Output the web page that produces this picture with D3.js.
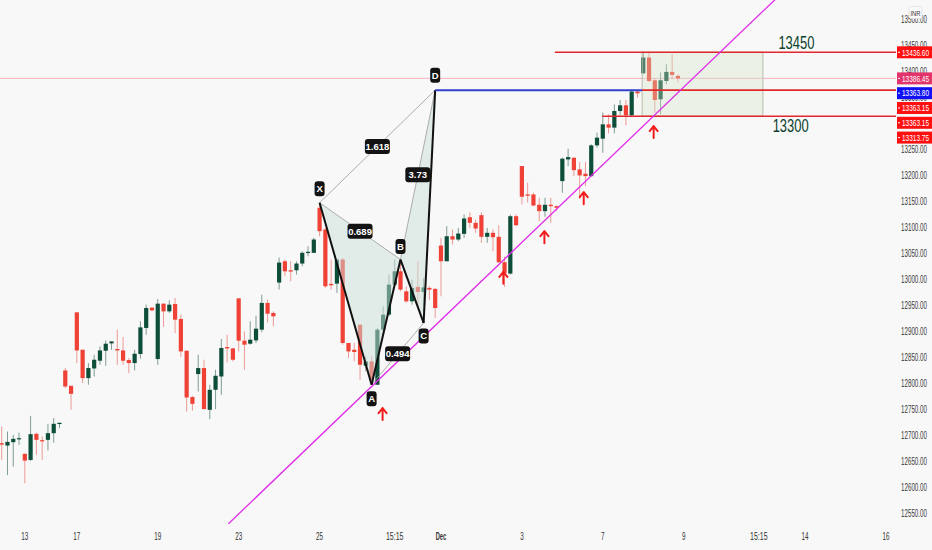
<!DOCTYPE html>
<html><head><meta charset="utf-8">
<script src="https://cdn.jsdelivr.net/npm/d3@7"></script>
<style>
html,body{margin:0;padding:0;background:#f8f8f8;}
svg{display:block;}
</style></head><body><svg id="c" width="932" height="550"></svg>
<script>
// ---------- DATA ----------
const opens=[12685.2,12680.6,12687.1,12693.5,12664.6,12653.0,12703.1,12691.0,12691.6,12704.4,12723.5,12825.0,12795.5,12936.7,12864.8,12810.3,12828.8,12843.7,12862.9,12877.0,12866.2,12863.5,12845.0,12839.2,12856.6,12906.7,12945.7,12846.9,12953.4,12938.6,12952.8,12924.0,12862.9,12773.8,12818.1,12829.6,12749.3,12787.8,12813.4,12870.0,12867.4,12963.6,12882.2,12876.4,12882.8,12903.4,12954.8,12935.5,12993.9,13034.9,13017.6,13017.6,13030.5,13051.1,13051.1,13137.7,13096.0,12991.4,12991.9,13038.2,12877.8,12864.8,12913.0,12834.0,12842.3,12797.5,12903.4,12932.3,12990.0,13015.6,12977.1,12957.9,12985.6,12976.0,12983.7,12981.7,13065.1,13034.9,13083.0,13076.7,13087.6,13119.6,13108.8,13123.5,13081.9,13089.6,13081.9,13033.0,13011.2,13121.5,13217.9,13163.4,13163.3,13143.5,13131.2,13143.5,13140.8,13189.0,13230.7,13234.0,13211.5,13203.2,13198.6,13257.7,13270.6,13298.1,13291.8,13323.7,13334.7,13315.5,13361.1,13396.3,13426.6,13382.8,13346.3,13381.5,13398.9,13391.2];
const highs=[12717.2,12707.5,12701.2,12705.6,12665.9,12737.7,12705.6,12697.9,12722.4,12733.3,12724.9,12829.6,12795.5,12936.7,12864.8,12839.2,12855.2,12871.2,12882.8,12880.8,12903.4,12889.3,12848.9,12864.8,12919.4,12951.5,12947.2,12962.5,12953.4,12959.8,12964.4,12932.3,12862.9,12776.3,12855.2,12845.6,12797.5,12826.3,12885.5,12893.7,12868.1,12963.6,12900.1,12919.4,12930.3,12970.8,12961.1,12938.6,13042.0,13038.2,13034.9,13034.9,13054.1,13063.8,13080.0,13147.4,13099.2,13038.2,13038.2,13041.5,12877.8,12877.8,12913.0,12851.9,12851.9,12906.6,12948.2,13009.3,13038.2,13038.2,12986.8,12999.6,13034.9,13002.9,12986.8,12983.7,13080.0,13102.3,13096.0,13099.2,13124.8,13129.2,13115.2,13129.2,13099.2,13096.0,13104.2,13043.4,13124.8,13124.8,13217.9,13185.9,13166.6,13157.0,13157.0,13157.0,13142.1,13234.0,13251.3,13234.0,13225.5,13225.5,13259.6,13282.2,13320.7,13317.4,13336.6,13344.9,13344.9,13365.5,13362.3,13437.4,13437.4,13386.1,13397.7,13413.7,13432.9,13394.4];
const lows=[12653.0,12624.1,12640.1,12681.9,12608.1,12651.0,12662.7,12653.0,12671.0,12686.3,12714.1,12791.1,12749.3,12839.2,12800.7,12797.5,12813.4,12835.9,12834.0,12864.8,12835.9,12835.9,12820.0,12825.0,12847.5,12893.7,12938.6,12835.9,12908.6,12935.5,12896.7,12850.8,12746.0,12747.9,12784.6,12750.6,12731.4,12750.6,12778.2,12840.4,12842.3,12861.6,12826.3,12874.5,12877.8,12898.2,12917.4,12909.7,12980.4,13006.0,12996.4,13009.3,13025.3,13044.5,13051.1,13083.0,12983.7,12980.4,12974.0,12874.5,12848.9,12842.3,12807.1,12822.9,12797.5,12797.5,12900.1,12929.0,12986.8,12977.1,12954.8,12951.5,12948.2,12916.3,12961.0,12926.0,12967.5,13034.9,13067.1,13073.4,13080.0,13099.2,13089.6,13070.3,13070.3,13054.1,13031.8,12985.6,13009.3,13102.3,13144.1,13147.4,13140.8,13111.9,13120.4,13108.8,13131.2,13166.6,13217.9,13198.6,13155.0,13179.3,13197.4,13253.3,13243.6,13280.8,13280.8,13315.5,13296.2,13314.1,13349.5,13394.4,13379.6,13320.7,13317.4,13375.2,13384.8,13378.4];
const closes=[12682.5,12687.7,12693.5,12694.8,12651.7,12702.5,12691.6,12690.0,12704.4,12722.4,12724.3,12794.2,12780.1,12863.5,12810.3,12829.6,12845.6,12863.5,12876.4,12880.8,12863.5,12843.7,12839.2,12857.1,12907.8,12945.1,12940.5,12953.4,12938.6,12951.5,12922.6,12861.6,12773.0,12760.8,12829.6,12750.6,12787.8,12814.8,12868.1,12867.4,12845.6,12882.2,12874.5,12884.1,12905.3,12954.8,12934.2,12929.0,13032.4,13015.6,13015.1,13030.5,13051.1,13053.0,13076.7,13092.7,12986.8,12988.7,13038.2,12877.8,12861.6,12860.4,12835.9,12842.3,12807.1,12903.4,12932.3,12990.0,13015.6,12980.4,12957.9,12983.7,12976.0,12984.8,12980.4,12945.1,13034.9,13083.0,13076.7,13088.2,13117.1,13108.8,13097.9,13081.9,13089.6,13081.1,13033.0,13012.5,13121.5,13104.2,13158.9,13160.9,13142.1,13131.2,13143.5,13140.8,13137.7,13232.1,13235.2,13210.1,13199.9,13198.6,13257.7,13272.5,13298.1,13291.8,13323.7,13334.7,13315.5,13361.1,13357.8,13426.6,13381.5,13344.9,13382.8,13398.9,13393.1,13386.45];

const xTickIdx=[4,13,27,41,55,68,76,90,104,118,131,139,153];
const xTickLabels=["13","17","19","23","25","15:15","Dec","3","7","9","15:15","14","16"];
const yTickValues=d3.range(12550,13501,50);

const patternNames=["X","A","B","C","D"];
const patternIdx=[55,64,69,73,75];
const patternPrice=[13147.4,12797.5,13038.2,12916.3,13363.8];
const ratioTexts=["1.618","0.689","3.73","0.494"];
const ratioPairs=[[0,4],[0,2],[2,4],[1,3]];

const trendIdx=[64,112.2];
const trendPrice=[12794.2,13307.7];

const arrowIdx=[65.9,86.8,93.9,100.7,112.8];
const arrowPrice=[12752.6,13014.5,13092.7,13167.8,13294.9];

const levelPrice=[13436.6,13363.8,13313.75];
const levelStartIdx=[95.7,110.8,103.9];
const levelTexts=["13450","13300"];
const levelTextIdx=[137.5,136.5];
const levelTextPrice=[13455,13296];
const zoneIdx=[110.8,131.7];
const zonePrice=[13436.6,13313.75];
const blueIdx=[75,110.8];
const bluePrice=13363.8;
const lastPrice=13386.45;

const tagValues=[13436.60,13386.45,13363.80,13363.15,13363.15,13313.75];
const tagKinds=["level","last","blue","level","level","level"];

// ---------- STYLE ----------
const W=932,H=550,plotR=896,plotB=524;
const UP="#0d4e3b",DN="#ef4136";
const tagFill={level:"#ff1010",last:"#e2336b",blue:"#1010f5"};
const FONT="'Liberation Sans',Arial,sans-serif";

const svg=d3.select("#c");
svg.append("rect").attr("width",W).attr("height",H).attr("fill","#f8f8f8");

const x=d3.scaleLinear().domain([0,153]).range([1.7,886.0]);
const y=d3.scaleLinear().domain([12550,13436.6]).range([513.5,52.3]);

svg.append("clipPath").attr("id","pc").append("rect").attr("x",0).attr("y",0).attr("width",plotR).attr("height",plotB);
const g=svg.append("g").attr("clip-path","url(#pc)");

// last price line
g.append("line").attr("x1",0).attr("x2",plotR).attr("y1",y(lastPrice)).attr("y2",y(lastPrice))
 .attr("stroke","#f2a0b0").attr("stroke-width",0.8);

// candles
const idx=d3.range(opens.length);
const cg=g.append("g");
cg.selectAll("line.w").data(idx).join("line").attr("class","w")
 .attr("x1",i=>x(i)).attr("x2",i=>x(i)).attr("y1",i=>y(highs[i])).attr("y2",i=>y(lows[i]))
 .attr("stroke",i=>closes[i]>=opens[i]?"#7f9c93":"#ec9a95").attr("stroke-width",1);
const bw=4.2;
cg.selectAll("rect.b").data(idx).join("rect").attr("class","b")
 .attr("x",i=>x(i)-bw/2).attr("width",bw)
 .attr("y",i=>y(Math.max(opens[i],closes[i])))
 .attr("height",i=>Math.max(1.2,Math.abs(y(opens[i])-y(closes[i]))))
 .attr("fill",i=>closes[i]>=opens[i]?UP:DN);

// zone rectangle
g.append("rect").attr("x",x(zoneIdx[0])).attr("width",x(zoneIdx[1])-x(zoneIdx[0]))
 .attr("y",y(zonePrice[0])).attr("height",y(zonePrice[1])-y(zonePrice[0]))
 .attr("fill","#d4e4c8").attr("fill-opacity",0.35).attr("stroke","#b8bca8").attr("stroke-width",1);

// pattern
const P=patternNames.map((n,k)=>({n,x:x(patternIdx[k]),y:y(patternPrice[k])}));
const tri=(a,b,c)=>`M${P[a].x},${P[a].y}L${P[b].x},${P[b].y}L${P[c].x},${P[c].y}Z`;
g.append("path").attr("d",tri(0,1,2)).attr("fill","#c9e0d8").attr("fill-opacity",0.5);
g.append("path").attr("d",tri(2,3,4)).attr("fill","#c9e0d8").attr("fill-opacity",0.5);
ratioPairs.forEach(([a,b])=>{
  g.append("line").attr("x1",P[a].x).attr("y1",P[a].y).attr("x2",P[b].x).attr("y2",P[b].y)
   .attr("stroke","#9a9a9a").attr("stroke-width",0.8);
});
for(let k=0;k<4;k++){
  g.append("line").attr("x1",P[k].x).attr("y1",P[k].y).attr("x2",P[k+1].x).attr("y2",P[k+1].y)
   .attr("stroke","#111").attr("stroke-width",2);
}

// levels
g.append("line").attr("x1",x(blueIdx[0])).attr("x2",x(blueIdx[1])).attr("y1",y(bluePrice)).attr("y2",y(bluePrice))
 .attr("stroke","#3340cc").attr("stroke-width",2);
levelPrice.forEach((v,k)=>{
  g.append("line").attr("x1",x(levelStartIdx[k])).attr("x2",plotR).attr("y1",y(v)).attr("y2",y(v))
   .attr("stroke","#e0282c").attr("stroke-width",1.6);
});

// trend line (extended)
const slope=(trendPrice[1]-trendPrice[0])/(trendIdx[1]-trendIdx[0]);
const tl=i=>trendPrice[0]+slope*(i-trendIdx[0]);
g.append("line").attr("x1",x(39.2)).attr("y1",y(tl(39.2))).attr("x2",x(140)).attr("y2",y(tl(140)))
 .attr("stroke","#e02ce8").attr("stroke-width",1.3);

// arrows
arrowIdx.forEach((ai,k)=>{
  const ax=x(ai),ay=y(arrowPrice[k]);
  g.append("path").attr("d",`M${ax},${ay}L${ax},${ay+12}M${ax-4},${ay+5}L${ax},${ay}L${ax+4},${ay+5}`)
   .attr("fill","none").attr("stroke","#f21c1c").attr("stroke-width",2).attr("stroke-linecap","round").attr("stroke-linejoin","round");
});

// pattern labels
function badge(cx,cy,t,w){
  const bg=g.append("g");
  bg.append("rect").attr("x",cx-w/2).attr("y",cy-7.5).attr("width",w).attr("height",15).attr("rx",3).attr("fill","#131313");
  bg.append("text").attr("x",cx).attr("y",cy+3.5).attr("text-anchor","middle").attr("fill","#fff")
   .attr("font-family",FONT).attr("font-weight","bold").attr("font-size",9.5).text(t);
}
const off=[-14,14,-13,13,-15];
P.forEach((p,k)=>badge(p.x,p.y+off[k],p.n,10));
ratioPairs.forEach(([a,b],k)=>badge((P[a].x+P[b].x)/2,(P[a].y+P[b].y)/2,ratioTexts[k],25));

// level texts
levelTexts.forEach((t,k)=>{
  g.append("text").attr("x",x(levelTextIdx[k])).attr("y",y(levelTextPrice[k])+6.5).attr("text-anchor","middle")
   .attr("font-family",FONT).attr("font-size",19).attr("fill","#0b3f2e")
   .attr("textLength",36).attr("lengthAdjust","spacingAndGlyphs").text(t);
});

// y axis ticks
svg.append("g").selectAll("text").data(yTickValues).join("text")
 .attr("x",901).attr("y",v=>y(v)+3.4).attr("text-anchor","start")
 .attr("font-family",FONT).attr("font-size",10).attr("fill","#3a3a3a")
 .attr("textLength",26).attr("lengthAdjust","spacingAndGlyphs").text(v=>v.toFixed(2));

// x axis ticks
svg.append("g").selectAll("text").data(xTickIdx).join("text")
 .attr("x",i=>x(i)).attr("y",540).attr("text-anchor","middle")
 .attr("font-family",FONT).attr("font-size",10).attr("fill","#333")
 .attr("font-weight",(d,k)=>xTickLabels[k]==="Dec"?"bold":"normal")
 .attr("textLength",(d,k)=>xTickLabels[k].length*3.5).attr("lengthAdjust","spacingAndGlyphs")
 .text((d,k)=>xTickLabels[k]);

// price tags with overlap avoidance
const tags=tagValues.map((v,k)=>({v,kind:tagKinds[k],yy:y(v)})).sort((a,b)=>a.yy-b.yy);
for(let k=1;k<tags.length;k++) if(tags[k].yy<tags[k-1].yy+14.8) tags[k].yy=tags[k-1].yy+14.8;
const tg=svg.append("g");
tags.forEach(t=>{
  tg.append("rect").attr("x",897).attr("y",t.yy-6).attr("width",35).attr("height",12).attr("fill",tagFill[t.kind]);
  tg.append("line").attr("x1",898).attr("x2",900).attr("y1",t.yy).attr("y2",t.yy).attr("stroke","#fff").attr("stroke-width",1);
  tg.append("text").attr("x",902).attr("y",t.yy+3.3).attr("text-anchor","start").attr("fill","#fff")
   .attr("font-family",FONT).attr("font-size",9.5)
   .attr("textLength",27).attr("lengthAdjust","spacingAndGlyphs").text(t.v.toFixed(2));
});

// INR box
svg.append("rect").attr("x",909).attr("y",6.5).attr("width",13).attr("height",12).attr("rx",2)
 .attr("fill","#fafafa").attr("stroke","#dedede").attr("stroke-width",0.8);
svg.append("text").attr("x",915.5).attr("y",15.5).attr("text-anchor","middle").attr("font-family",FONT)
 .attr("font-size",7).attr("fill","#333").attr("textLength",10).attr("lengthAdjust","spacingAndGlyphs").text("INR");
</script></body></html>
